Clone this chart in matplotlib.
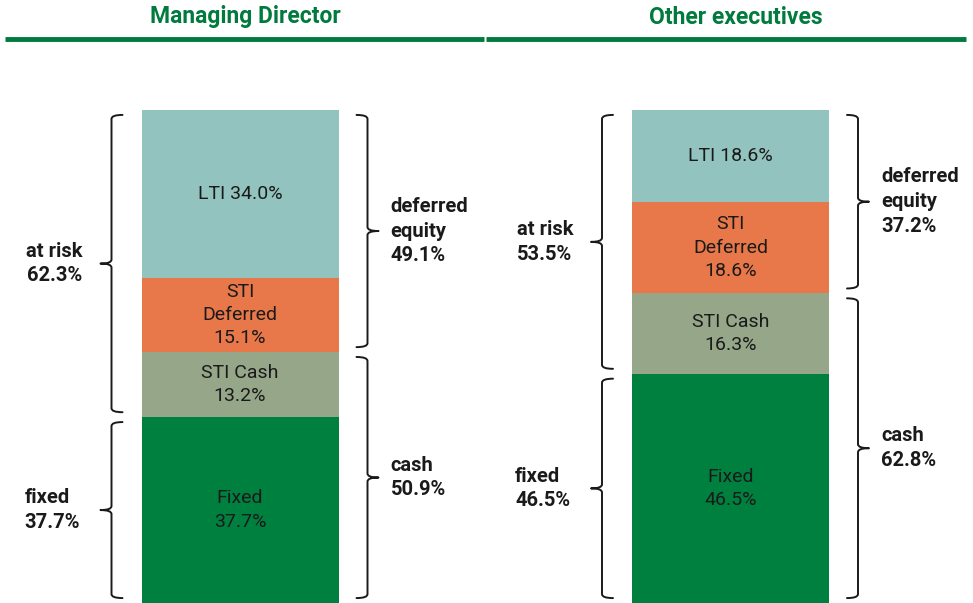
import matplotlib.pyplot as plt
from matplotlib.path import Path
from matplotlib.patches import PathPatch

plt.rcParams['font.family'] = ['Roboto', 'DejaVu Sans']

# data
groups = ['Managing Director', 'Other executives']
fixed = [37.7, 46.5]
sti_cash = [13.2, 16.3]
sti_deferred = [15.1, 18.6]
lti = [34.0, 18.6]
at_risk = [62.3, 53.5]
deferred_equity = [49.1, 37.2]
cash = [50.9, 62.8]

seg_colors = ['#00803f', '#95a689', '#e8784a', '#93c3be']
seg_fmt = ['Fixed\n{:.1f}%', 'STI Cash\n{:.1f}%', 'STI\nDeferred\n{:.1f}%', 'LTI {:.1f}%']
green = '#007a3d'
ink = '#1a1a1a'

# layout (x in pixels, y in percent)
px_per_pct = 4.93
W, H = 973, 603
centers = [240, 730.5]
bar_w = 197
fs = 14
fs_bold = 14.5
ls = 1.38

fig = plt.figure(figsize=(W / 100, H / 100), dpi=100)
ax = fig.add_axes([0, 0, 1, 1])
ax.set_xlim(0, W)
ax.set_ylim(0, H / px_per_pct)
ax.axis('off')


def brace(ax, xb, y0, y1, side, w=11, r=0.8):
    # side=-1 : tip points left, side=+1 : tip points right
    s = side
    ym = (y0 + y1) / 2
    verts = [(xb - s * w, y1), (xb, y1), (xb, y1 - r),
             (xb, ym + r), (xb, ym), (xb + s * w, ym),
             (xb, ym), (xb, ym - r),
             (xb, y0 + r), (xb, y0), (xb - s * w, y0)]
    codes = [Path.MOVETO, Path.CURVE3, Path.CURVE3,
             Path.LINETO, Path.CURVE3, Path.CURVE3,
             Path.CURVE3, Path.CURVE3,
             Path.LINETO, Path.CURVE3, Path.CURVE3]
    ax.add_patch(PathPatch(Path(verts, codes), fill=False, lw=1.4,
                           ec=ink, capstyle='round', joinstyle='round'))
    return xb + s * w, ym


gap = 1.0
for i, g in enumerate(groups):
    vals = [fixed[i], sti_cash[i], sti_deferred[i], lti[i]]
    bottom = 0
    for v, c, f in zip(vals, seg_colors, seg_fmt):
        ax.bar(centers[i], v, width=bar_w, bottom=bottom, color=c, lw=0)
        ax.text(centers[i], bottom + v / 2, f.format(v), ha='center',
                va='center', fontsize=fs, color=ink, linespacing=ls)
        bottom += v

    left = centers[i] - bar_w / 2
    right = centers[i] + bar_w / 2

    # left side braces: at risk / fixed
    _, ym = brace(ax, left - 30, fixed[i] + gap, 100 - gap, -1)
    ax.text(left - 115, ym, 'at risk\n{:.1f}%'.format(at_risk[i]), ha='left',
            va='center', fontsize=fs_bold, fontweight='bold', color=ink, linespacing=ls)
    _, ym = brace(ax, left - 30, gap, fixed[i] - gap, -1)
    ax.text(left - 117, ym, 'fixed\n{:.1f}%'.format(fixed[i]), ha='left',
            va='center', fontsize=fs_bold, fontweight='bold', color=ink, linespacing=ls)

    # right side braces: deferred equity / cash
    split = fixed[i] + sti_cash[i]
    _, ym = brace(ax, right + 29, split + gap, 100 - gap, 1)
    ax.text(right + 52, ym, 'deferred\nequity\n{:.1f}%'.format(deferred_equity[i]),
            ha='left', va='center', fontsize=fs_bold, fontweight='bold', color=ink,
            linespacing=ls)
    _, ym = brace(ax, right + 29, gap, split - gap, 1)
    ax.text(right + 52, ym, 'cash\n{:.1f}%'.format(cash[i]), ha='left',
            va='center', fontsize=fs_bold, fontweight='bold', color=ink, linespacing=ls)

    # header and rule
    ax.text(centers[i] + 5, (H - 17) / px_per_pct, g, ha='center', va='center',
            fontsize=16.5, fontweight='bold', color=green)

ax.plot([5, 484], [(H - 39) / px_per_pct] * 2, color=green, lw=3.5, solid_capstyle='butt')
ax.plot([486, 966], [(H - 39) / px_per_pct] * 2, color=green, lw=3.5, solid_capstyle='butt')

fig.savefig('out.png', dpi=100, facecolor='white')
